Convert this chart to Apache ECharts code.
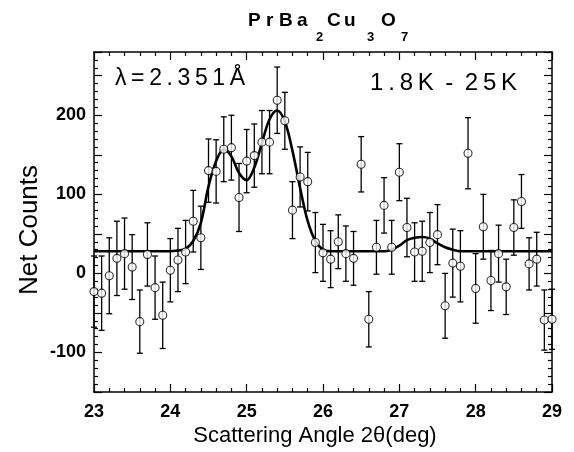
<!DOCTYPE html>
<html>
<head>
<meta charset="utf-8">
<script src="https://cdn.jsdelivr.net/npm/echarts@6/dist/echarts.min.js"></script>
<style>html,body{margin:0;padding:0;background:#fff}#c{width:574px;height:452px}</style>
</head>
<body>
<div id="c"></div>
<script>
// Data
var angles = [23.0,23.1,23.2,23.3,23.4,23.5,23.6,23.7,23.8,23.9,
              24.0,24.1,24.2,24.3,24.4,24.5,24.6,24.7,24.8,24.9,
              25.0,25.1,25.2,25.3,25.4,25.5,25.6,25.7,25.8,25.9,
              26.0,26.1,26.2,26.3,26.4,26.5,26.6,26.7,26.8,26.9,
              27.0,27.1,27.2,27.3,27.4,27.5,27.6,27.7,27.8,27.9,
              28.0,28.1,28.2,28.3,28.4,28.5,28.6,28.7,28.8,28.9,29.0];
var counts = [-23,-25,-3,19,25,8,-61,24,-18,-53,
              4,17,27,66,45,130,129,157,159,96,
              142,149,166,166,219,193,80,122,116,39,
              26,18,40,25,19,138,-58,33,86,33,
              128,58,27,28,39,49,-41,13,9,152,
              -19,59,-9,25,-17,58,91,12,18,-59,-58];
var errors = [45,47,48,47,45,41,40,40,40,42,
              40,40,40,39,40,40,40,41,41,43,
              40,40,40,40,42,36,36,38,37,38,
              36,36,34,35,34,35,35,34,35,34,
              36,37,37,38,38,38,41,43,45,45,
              44,41,38,36,35,35,34,33,34,38,38];
var fitX = [23.0,23.5,24.0,24.1,24.2,24.3,24.4,24.5,24.6,24.7,24.8,24.9,
            25.0,25.1,25.2,25.3,25.4,25.5,25.6,25.7,25.8,25.9,26.0,26.1,
            26.4,26.8,26.9,27.0,27.1,27.2,27.3,27.4,27.5,27.6,27.7,27.8,28.4,29.0];
var fitY = [28,28,28,29,31,41,64,110,142,157,148,127,
            118,134,165,195,206,192,155,108,66,41,30,28,
            28,28,30,35,42,45,46,44,38,33,30,28,28,28];
var xTicks = [23,24,25,26,27,28,29];
var yTicks = [-100,0,100,200];
// Title pieces: [text, isSubscript]
var titleParts = [['P',0],['r',0],['B',0],['a',0],['2',1],['C',0],['u',0],['3',1],['O',0],['7',1]];

function track(s){ return String(s).split('').join('\u2009'); }

var pts = angles.map(function(a,i){ return [a, counts[i]]; });
var bars = angles.map(function(a,i){ return [a, counts[i]-errors[i], counts[i]+errors[i]]; });
var fit = fitX.map(function(a,i){ return [a, fitY[i]]; });

var FONT = '"Liberation Sans", Arial, Helvetica, sans-serif';
var chart = echarts.init(document.getElementById('c'), null, {renderer:'canvas'});

function axisBase(){
  return {
    axisLine:{show:true, onZero:false, lineStyle:{color:'#000', width:1.5}},
    splitLine:{show:false},
    minorSplitLine:{show:false},
    axisTick:{show:true, inside:true, length:8, lineStyle:{color:'#000', width:1.2}},
    minorTick:{show:true, splitNumber:5, length:4, lineStyle:{color:'#000', width:1.2}}
  };
}

// title layout (positions only)
var titleX = [248, 266, 279, 297, 316, 327, 344, 367, 381, 401];
var titleGraphics = titleParts.map(function(p, i){
  var sub = p[1] === 1;
  return {type:'text', x:titleX[i], y: sub ? 44 : 30, z:10,
    style:{text:p[0], fontFamily:FONT, fontWeight:'bold', fontSize: sub ? 13 : 19, fill:'#000',
      align:'left', verticalAlign:'bottom'}};
});

chart.setOption({
  animation:false,
  backgroundColor:'#fff',
  grid:{left:94, right:22, top:52, bottom:60},
  xAxis:[
    Object.assign(axisBase(), {
      type:'value', min:23, max:29, interval:1, position:'bottom',
      axisLabel:{show:true, margin:11, color:'#000', fontFamily:FONT, fontWeight:'bold', fontSize:18,
        formatter:function(v){ return xTicks.indexOf(v) >= 0 ? String(v) : ''; }}
    }),
    Object.assign(axisBase(), {
      type:'value', min:23, max:29, interval:1, position:'top',
      axisLabel:{show:false}
    })
  ],
  yAxis:[
    Object.assign(axisBase(), {
      type:'value', min:-150, max:280, interval:50, position:'left',
      axisLabel:{show:true, margin:8, color:'#000', fontFamily:FONT, fontWeight:'bold', fontSize:18,
        formatter:function(v){ return yTicks.indexOf(v) >= 0 ? String(v) : ''; }}
    }),
    Object.assign(axisBase(), {
      type:'value', min:-150, max:280, interval:50, position:'right',
      axisLabel:{show:false}
    })
  ],
  series:[
    {
      type:'custom', xAxisIndex:0, yAxisIndex:0, z:2,
      data:bars,
      renderItem:function(params, api){
        var x = api.value(0), lo = api.value(1), hi = api.value(2);
        var p1 = api.coord([x, lo]), p2 = api.coord([x, hi]);
        var w = 3;
        var st = {stroke:'#000', lineWidth:1.3};
        return {type:'group', children:[
          {type:'line', shape:{x1:p1[0], y1:p1[1], x2:p2[0], y2:p2[1]}, style:st},
          {type:'line', shape:{x1:p1[0]-w, y1:p1[1], x2:p1[0]+w, y2:p1[1]}, style:st},
          {type:'line', shape:{x1:p2[0]-w, y1:p2[1], x2:p2[0]+w, y2:p2[1]}, style:st}
        ]};
      }
    },
    {
      type:'line', xAxisIndex:0, yAxisIndex:0, z:3,
      data:fit, smooth:0.35, showSymbol:false, symbol:'none',
      lineStyle:{color:'#000', width:2.6}
    },
    {
      type:'scatter', xAxisIndex:0, yAxisIndex:0, z:4,
      data:pts, symbol:'circle', symbolSize:8,
      itemStyle:{color:'#fff', borderColor:'#000', borderWidth:1.1}
    }
  ],
  graphic: titleGraphics.concat([
    {type:'text', x:115, y:79, z:10,
      style:{text:track('λ=2.351Å'), fontFamily:FONT, fontSize:23, fill:'#000', verticalAlign:'middle', align:'left'}},
    {type:'text', x:370, y:83, z:10,
      style:{text:track('1.8K') + '\u2009 ' + track('-') + ' \u2009' + track('25K'), fontFamily:FONT, fontSize:24, fill:'#000', verticalAlign:'middle', align:'left'}},
    {type:'text', x:30, y:230, rotation:Math.PI/2, z:10,
      style:{text:'Net Counts', fontFamily:FONT, fontSize:26, fill:'#000', align:'center', verticalAlign:'middle'}},
    {type:'text', x:315, y:436, z:10,
      style:{text:'Scattering Angle 2θ(deg)', fontFamily:FONT, fontSize:22, fill:'#000', align:'center', verticalAlign:'middle'}}
  ])
});
</script>
</body>
</html>
